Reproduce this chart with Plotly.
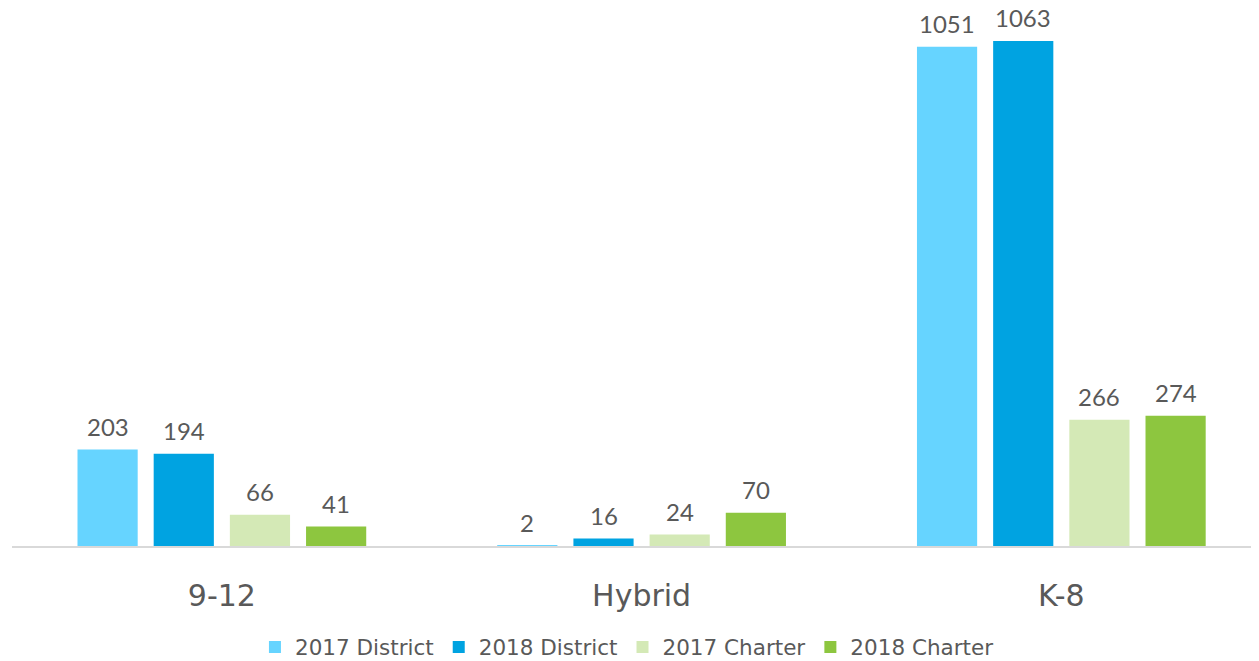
import plotly.graph_objects as go

categories = ["9-12", "Hybrid", "K-8"]
series_names = ["2017 District", "2018 District", "2017 Charter", "2018 Charter"]
district_2017 = [203, 2, 1051]
district_2018 = [194, 16, 1063]
charter_2017 = [66, 24, 266]
charter_2018 = [41, 70, 274]
colors = ["#66D4FF", "#00A3E1", "#D4E9B6", "#8DC63F"]

series_values = [district_2017, district_2018, charter_2017, charter_2018]
bargap = 0.274
n_series = len(series_values)
slot = (1 - bargap) / n_series

fig = go.Figure()
for name, vals, col in zip(series_names, series_values, colors):
    fig.add_trace(go.Bar(
        x=categories, y=vals, name=name, marker_color=col, marker_line_width=0,
    ))

# value labels above bars (placed in data coordinates of the axes)
for j, vals in enumerate(series_values):
    for i, v in enumerate(vals):
        fig.add_annotation(
            x=i + (j - (n_series - 1) / 2) * slot, y=v, xref="x", yref="y",
            text=str(v), showarrow=False, yanchor="middle", yshift=23,
            font=dict(family="Lato", size=24, color="#595959"),
        )

fig.update_layout(
    width=1259, height=661,
    margin=dict(l=4, r=0, t=4, b=123),
    paper_bgcolor="white", plot_bgcolor="white",
    barmode="group", bargap=bargap, bargroupgap=0.21,
    showlegend=True,
    legend=dict(orientation="h", x=0.49, xanchor="center", y=-0.189, yanchor="middle",
                font=dict(family="DejaVu Sans", size=21.5, color="#595959"),
                itemwidth=30, traceorder="normal"),
    xaxis=dict(range=[-0.5, 2.49], showgrid=False, showline=True, linecolor="#D9D9D9", linewidth=1.5,
               ticks="", tickfont=dict(family="DejaVu Sans", size=30, color="#595959"),
               ticklabelstandoff=22),
    yaxis=dict(range=[0, 1124], visible=False, showgrid=False, zeroline=False),
)
fig.write_html("out.html")
